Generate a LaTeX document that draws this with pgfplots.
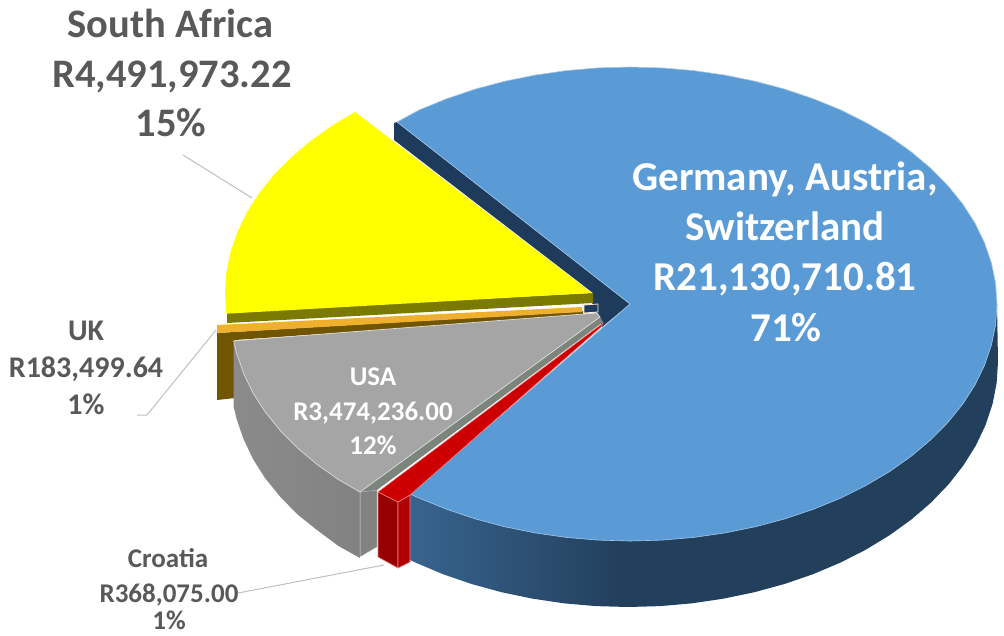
\documentclass[border=0pt]{standalone}
\usepackage{fontspec}
\setmainfont{Carlito}
\usepackage{pgfplots}
\pgfplotsset{compat=1.18}

\definecolor{blueTop}{HTML}{5B9BD5}
\definecolor{blueEdge}{HTML}{A5C8E8}
\definecolor{navy}{HTML}{1F3B5C}
\definecolor{sideA}{HTML}{38648F}
\definecolor{sideB}{HTML}{223F5C}
\definecolor{yel}{HTML}{FFFF00}
\definecolor{olive}{HTML}{7A7A00}
\definecolor{orangeTop}{HTML}{EFB02E}
\definecolor{brownSide}{HTML}{705600}
\definecolor{greyTop}{HTML}{A5A5A5}
\definecolor{greySide}{HTML}{828282}
\definecolor{greyIn}{HTML}{7C857C}
\definecolor{redTop}{HTML}{CC0000}
\definecolor{redLeft}{HTML}{960000}
\definecolor{redRight}{HTML}{B00000}
\definecolor{pinkEdge}{HTML}{F08080}
\definecolor{labelgrey}{HTML}{595959}
\definecolor{leader}{HTML}{BFBFBF}

\pgfdeclarehorizontalshading{blueside}{100bp}{
  color(0bp)=(sideA); color(25bp)=(sideA); color(43bp)=(sideB); color(100bp)=(sideB)}
\pgfdeclarehorizontalshading{greyside}{100bp}{
  color(0bp)=(greySide!93!white); color(25bp)=(greySide!93!white); color(75bp)=(greySide); color(100bp)=(greySide)}

\newcommand{\lab}[5]{\node[anchor=base,inner sep=0pt,text=#4,font=\bfseries\fontsize{#3}{#3}\selectfont] at (axis cs:#1,#2) {#5};}

\begin{document}
\begin{tikzpicture}
\begin{axis}[
  width=1004pt, height=635pt, scale only axis,
  xmin=0, xmax=1004, ymin=0, ymax=635,
  y dir=reverse,
  hide axis,
  clip=false,
]
% keeps the page the full size
\addplot[draw=none, forget plot] coordinates {(0,0) (1004,635)};

% leader lines
\addplot[leader, line width=1pt] coordinates {(183,155) (252,198)};
\addplot[leader, line width=1pt] coordinates {(137,415) (147,415) (216,330)};
\addplot[leader, line width=1pt] coordinates {(238,593) (384,565)};

% Germany, Austria, Switzerland: outer side
\addplot[draw=none, shading=blueside] coordinates {
  (997,304) (998,362) (996.6,383.4) (992.4,404.5) (985.4,425.4) (975.7,445.8) (963.3,465.5)
  (948.4,484.5) (931.1,502.5) (911.4,519.5) (889.6,535.2) (865.8,549.7) (840.2,562.7)
  (813,574.2) (784.4,584) (754.5,592.2) (723.8,598.6) (692.2,603.3) (660.3,606.1) (628,607)
  (595.7,606.1) (563.8,603.3) (532.2,598.6) (501.5,592.2) (471.6,584) (443,574.2) (415.8,562.7)
  (410,560) (410,494) (630,400)} -- cycle;
% inner side in the notch
\addplot[draw=none, fill=navy] coordinates {
  (394,123) (397,122) (630,304) (602,327) (592,303) (593,293) (394,140)} -- cycle;
% top face
\addplot[draw=blueEdge, line width=0.6pt, fill=blueTop] coordinates {
  (397,122) (419.5,109.8) (446.5,98.8) (474.9,89.2) (504.5,81.3) (535,75.1) (566.3,70.6) (598,67.9)
  (630,67) (662,67.9) (693.7,70.6) (725,75.1) (755.5,81.3) (785.1,89.2) (813.5,98.8) (840.5,109.8)
  (865.9,122.5) (889.5,136.4) (911.1,151.7) (930.6,168.1) (947.8,185.5) (962.6,203.8) (974.9,222.9)
  (984.5,242.7) (991.4,262.9) (995.6,283.3) (997,304) (995.6,324.7) (991.4,345.1) (984.5,365.3)
  (974.9,385.1) (962.6,404.2) (947.8,422.5) (930.6,439.9) (911.1,456.3) (889.5,471.6) (865.9,485.5)
  (840.5,498.2) (813.5,509.2) (785.1,518.8) (755.5,526.7) (725,532.9) (693.7,537.4) (662,540.1)
  (630,541) (598,540.1) (566.3,537.4) (535,532.9) (504.5,526.7) (474.9,518.8) (446.5,509.2)
  (419.5,498.2) (410,494) (630,304)} -- cycle;

% South Africa
\addplot[draw=none, fill=olive] coordinates {(227,312) (593,293) (593,303) (227,323)} -- cycle;
\addplot[draw=none, fill=yel] coordinates {
  (226.4,313.7) (225,293) (226.4,272.3) (230.6,251.9) (237.5,231.7) (247.1,211.9) (259.4,192.8)
  (274.2,174.5) (291.4,157.1) (310.9,140.7) (332.5,125.4) (355,112) (592,293)} -- cycle;

% UK
\addplot[draw=none, fill=brownSide] coordinates {(217,333) (217,400) (235,398) (235,338)} -- cycle;
\addplot[draw=none, fill=brownSide] coordinates {(217,333) (583,311) (583,316) (235,340)} -- cycle;
\addplot[draw=none, fill=orangeTop] coordinates {(217,325) (582,307) (582,312) (217,333)} -- cycle;
\addplot[draw=white!85!orange, line width=0.8pt, fill=navy] coordinates {(584,305) (598,304) (598,312) (584,313)} -- cycle;

% USA
\addplot[draw=none, shading=greyside] coordinates {
  (233.7,340) (233.7,407) (236.6,419) (243.5,439) (253,459) (265,478) (280,496.5) (297,514) (317,530)
  (338.5,546) (360,558) (360,492)} -- cycle;
\addplot[draw=white!70!greySide, line width=0.5pt, fill=greySide] coordinates {(360,492) (377,490) (377,547) (360,557)} -- cycle;
\addplot[draw=none, fill=greyIn] coordinates {(360,492) (600,317) (603,322) (377,490)} -- cycle;
\addplot[draw=white!60!greyTop, line width=0.7pt, fill=greyTop] coordinates {
  (233.7,340.9) (236.6,353.1) (243.5,373.3) (253.1,393.1) (265.4,412.2) (280.2,430.5) (297.4,447.9)
  (316.9,464.3) (338.5,479.6) (360,492) (600,317) (597,313)} -- cycle;

% Croatia
\addplot[draw=pinkEdge, line width=0.6pt, fill=redLeft] coordinates {(378,492) (398,502) (398,568) (378,557)} -- cycle;
\addplot[draw=pinkEdge, line width=0.6pt, fill=redRight] coordinates {(398,502) (410,495) (410,562) (398,568)} -- cycle;
\addplot[draw=pinkEdge, line width=0.6pt, fill=redTop] coordinates {(378,492) (398,502) (410,495) (601,327) (603,323)} -- cycle;

% labels
\lab{170.5}{37}{40.5}{labelgrey}{South Africa}
\lab{172}{87}{40.5}{labelgrey}{R4,491,973.22}
\lab{171}{136}{40.5}{labelgrey}{15\%}
\lab{785}{190}{41}{white}{Germany, Austria,}
\lab{785}{240}{41}{white}{Switzerland}
\lab{785}{290}{41}{white}{R21,130,710.81}
\lab{786}{341}{41}{white}{71\%}
\lab{373}{385}{27}{white}{USA}
\lab{373}{420}{27}{white}{R3,474,236.00}
\lab{373}{454}{27}{white}{12\%}
\lab{86}{340}{30}{labelgrey}{UK}
\lab{86}{377}{30}{labelgrey}{R183,499.64}
\lab{86}{414}{30}{labelgrey}{1\%}
\lab{168}{567}{27}{labelgrey}{Croatia}
\lab{169}{602}{27}{labelgrey}{R368,075.00}
\lab{169}{629}{27}{labelgrey}{1\%}
\end{axis}
\end{tikzpicture}
\end{document}
